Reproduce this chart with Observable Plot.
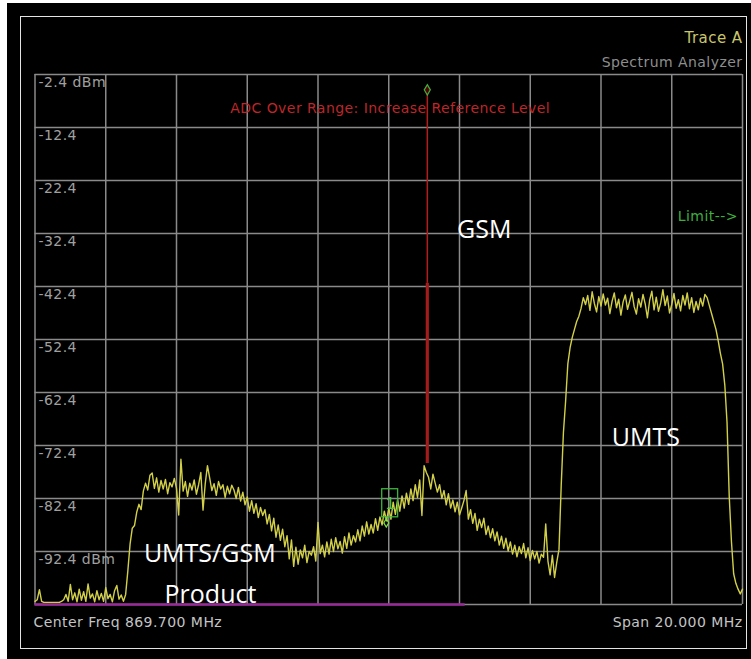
<!DOCTYPE html>
<html>
<head>
<meta charset="utf-8">
<script src="https://cdn.jsdelivr.net/npm/d3@7"></script>
<script src="https://cdn.jsdelivr.net/npm/@observablehq/plot@0.6"></script>
<style>
  html, body { margin: 0; padding: 0; background: #fff; overflow: hidden; }
  #wrap { position: relative; width: 751px; height: 659px; background: #fff; }
  #panel { position: absolute; left: 7px; top: 3px; width: 744px; height: 656px; background: #000; }
  #border { position: absolute; left: 20px; top: 16px; width: 725px; height: 631px; border: 1.5px solid #e4e4e4; }
  #chart { position: absolute; left: 0; top: 0; }
  #chart g[font-family="DejaVu Sans"] text { letter-spacing: 0.45px; }
</style>
</head>
<body>
<div id="wrap">
  <div id="panel"></div>
  <div id="border"></div>
  <div id="chart"></div>
</div>
<script>
// ---- Sweep (frequency axis) ----
const centerFreq = 869.7;            // MHz
const spanMHz = 20;                  // MHz
const freqStart = 859.7;             // MHz
const freqStep = 0.0625;             // MHz per trace point (321 points)

// ---- Grid / tick labels ----
const xGrid = [859.7, 861.7, 863.7, 865.7, 867.7, 869.7, 871.7, 873.7, 875.7, 877.7, 879.7];
const yGrid = [-2.4, -12.4, -22.4, -32.4, -42.4, -52.4, -62.4, -72.4, -82.4, -92.4, -102.4];
const yTicks = [-2.4, -12.4, -22.4, -32.4, -42.4, -52.4, -62.4, -72.4, -82.4, -92.4];
const yTickLabels = ["-2.4 dBm", "-12.4", "-22.4", "-32.4", "-42.4", "-52.4", "-62.4", "-72.4", "-82.4", "-92.4 dBm"];

// ---- Trace A (dBm) ----
const traceDbm = [
  -101.8, -101.5, -99.6, -101.8, -102, -102, -102, -102, -102, -102,
  -102, -102, -101.8, -101.5, -100.5, -101.8, -98.6, -101.5, -100.2, -101.9,
  -99.5, -101.6, -100, -101.8, -98.5, -101.2, -100.4, -101.9, -99.8, -101.5,
  -100.3, -101.8, -99.2, -101.3, -100.5, -101.9, -99.8, -98.8, -101.4, -100.6,
  -101.8, -100.5, -96, -91, -88, -87.5, -85, -83.5, -84.5, -81,
  -79.5, -80.8, -78, -77.6, -80.5, -78.5, -81.2, -79, -80.6, -78.8,
  -81.5, -79.4, -80.2, -78.6, -80.5, -85.5, -75.0, -81, -79.2, -82,
  -79.5, -80.8, -78.9, -81.6, -79.8, -77.5, -84.6, -79.6, -76.2, -78.5,
  -80.9, -79.6, -81.8, -79.2, -80.6, -79.8, -82.2, -80.1, -81.5, -79.9,
  -80.8, -82.4, -80.3, -82.9, -81.2, -83.6, -82.1, -84.8, -82.8, -85.2,
  -83.4, -86, -84.1, -85.6, -84.5, -87.2, -85.4, -88.5, -86.1, -89.7,
  -87.4, -90.3, -88.2, -91.5, -89.4, -93.8, -90.2, -95.2, -91.6, -94.8,
  -92.1, -93.6, -91.2, -94.5, -92.4, -93.1, -91.5, -94.2, -86.9, -92.8,
  -91.2, -93.4, -90.6, -92.9, -90.1, -92.4, -89.8, -91.9, -90.5, -92.7,
  -89.6, -91.8, -88.9, -91.2, -89.4, -90.6, -88.3, -90.4, -87.6, -89.5,
  -86.8, -89.1, -87.3, -88.9, -86.2, -88.4, -85.9, -87.4, -84.8, -86.6,
  -84.2, -86.3, -83.1, -85.4, -82.6, -84.8, -81.9, -84.2, -81.4, -83.5,
  -80.6, -82.8, -79.8, -82.2, -78.9, -85.6, -76.2, -77.5, -78.4, -80.6,
  -77.8, -79.5, -81.2, -79.8, -82.4, -80.9, -83.6, -81.5, -84.2, -82.7,
  -84.9, -83.1, -85.5, -84.2, -82.8, -80.9, -86.3, -84.5, -87.1, -85.2,
  -88.4, -86.3, -87.9, -86.1, -89.2, -87.6, -89.8, -88.1, -90.4, -88.7,
  -91.2, -89.5, -91.8, -89.9, -92.3, -90.6, -92.9, -91.2, -93.4, -91.5,
  -92.8, -90.9, -93.6, -91.7, -94.1, -92.2, -93.8, -92.4, -94.6, -92.9,
  -93.5, -87.2, -94.2, -96.8, -93.1, -97.3, -94.4, -92, -80, -70,
  -64, -57, -54, -52, -50.5, -49, -48, -46.5, -44.5, -45.8,
  -44.1, -46.9, -43.4, -45.6, -47.2, -44.3, -46.1, -43.8, -45.9, -44.6,
  -47.5, -45.2, -43.6, -46.4, -44.8, -47.8, -45.3, -44.0, -46.7, -45.1,
  -43.5, -46.2, -47.6, -44.7, -46.3, -43.9, -45.7, -48.3, -45.0, -43.3,
  -46.8, -44.4, -47.1, -45.5, -43.0, -46.0, -44.2, -47.4, -45.8, -43.7,
  -46.5, -44.9, -47.0, -44.1, -45.9, -43.6, -46.6, -44.5, -47.3, -45.2,
  -46.8, -44.6, -46.1, -43.9, -44.5, -46, -47.5, -49, -50.5, -52.6,
  -55, -57, -61, -68, -82, -90.5, -96.6, -98.4, -99.5, -100.4,
  -99.5
];

// ---- Over-range GSM carrier (drawn in red) ----
const gsmFreq = 870.79;       // MHz
const gsmPeak = -41.8;        // dBm, top of thick red trace
const gsmBase = -75.8;        // dBm, bottom of thick red trace
const markerTop = -5.3;       // dBm, diamond at top of thin red line

// ---- Marker 1 ----
const marker1 = [{ f: 869.74, v: -83.3, label: "1" }];
const marker1Point = [{ f: 869.63, v: -87.0 }];

// ---- Limit (purple) line ----
const limitStart = 859.7, limitEnd = 871.86, limitLevel = -102.4;

// ---- Annotations ----
const bigLabels = [
  { f: 872.40, v: -31.7, t: "GSM" },
  { f: 876.97, v: -70.9, t: "UMTS" },
  { f: 864.64, v: -92.8, t: "UMTS/GSM" },
  { f: 864.66, v: -100.6, t: "Product" }
];

const trace = traceDbm.map((v, i) => ({ f: freqStart + i * freqStep, v }));
const tickLabelMap = new Map(yTicks.map((d, i) => [d, yTickLabels[i]]));
const sans = "DejaVu Sans";

const chart = Plot.plot({
  width: 751,
  height: 659,
  marginLeft: 34.5,
  marginRight: 9,
  marginTop: 74,
  marginBottom: 55,
  x: { domain: [freqStart, freqStart + spanMHz], axis: null },
  y: { domain: [-102.4, -2.4], axis: null },
  style: { background: "transparent", overflow: "visible", fontFamily: sans },
  marks: [
    Plot.ruleX(xGrid, { stroke: "#8a8a8a", strokeWidth: 1.5 }),
    Plot.ruleY(yGrid, { stroke: "#8a8a8a", strokeWidth: 1.5 }),
    Plot.axisY(yTicks, {
      anchor: "left", tickSize: 0, tickPadding: 0, textAnchor: "start",
      dx: 3.5, dy: 8.5, fill: "#a0a0a0", fontSize: 14, fontFamily: sans,
      tickFormat: d => tickLabelMap.get(d), label: null
    }),
    Plot.ruleY([limitLevel], { x1: limitStart, x2: limitEnd, stroke: "#9a2a9a", strokeWidth: 2.5 }),
    Plot.line(trace, { x: "f", y: "v", stroke: "#d2d048", strokeWidth: 1.4 }),
    Plot.ruleX([gsmFreq], { y1: gsmPeak, y2: markerTop, stroke: "#b21e1e", strokeWidth: 1.5 }),
    Plot.ruleX([gsmFreq], { y1: gsmBase, y2: gsmPeak, stroke: "#a51a1a", strokeWidth: 3.2 }),
    Plot.dot([{ f: gsmFreq, v: markerTop }], { x: "f", y: "v", symbol: "diamond", r: 3.2, stroke: "#3fae3f", strokeWidth: 1.2, fill: "#500" }),
    Plot.rect(marker1, {
      x1: d => d.f - 0.225, x2: d => d.f + 0.225, y1: d => d.v - 2.65, y2: d => d.v + 2.65,
      stroke: "#3cb43c", strokeWidth: 1.3, fill: "none"
    }),
    Plot.text(marker1, { x: "f", y: "v", text: "label", fill: "#44cc44", fontSize: 16, fontFamily: "Liberation Sans", dy: 1 }),
    Plot.dot(marker1Point, { x: "f", y: "v", symbol: "diamond", r: 2.6, stroke: "#7de04a", strokeWidth: 1.2, fill: "none" }),
    Plot.text(["ADC Over Range: Increase Reference Level"], { x: () => centerFreq + 0.04, y: () => -8.8, fill: "#bf2529", fontSize: 14, fontFamily: sans }),
    Plot.text(["Limit-->"], { x: () => 879.57, y: () => -29.2, textAnchor: "end", fill: "#3fae3f", fontSize: 14, fontFamily: sans }),
    Plot.text(bigLabels, { x: "f", y: "v", text: "t", fill: "#ffffff", fontSize: 25, fontFamily: "Open Sans" }),
    Plot.text(["Trace A"], { frameAnchor: "top-right", dy: -42, textAnchor: "end", fill: "#c9c56a", fontSize: 15, fontFamily: sans }),
    Plot.text(["Spectrum Analyzer"], { frameAnchor: "top-right", dy: -17.5, textAnchor: "end", fill: "#8e8e8e", fontSize: 14, fontFamily: sans }),
    Plot.text([`Center Freq ${centerFreq.toFixed(3)} MHz`], { frameAnchor: "bottom-left", dx: -1.5, dy: 22, textAnchor: "start", fill: "#c4c4c4", fontSize: 14, fontFamily: sans }),
    Plot.text([`Span ${spanMHz.toFixed(3)} MHz`], { frameAnchor: "bottom-right", dy: 22, textAnchor: "end", fill: "#c4c4c4", fontSize: 14, fontFamily: sans })
  ]
});
document.getElementById("chart").appendChild(chart);
</script>
</body>
</html>
